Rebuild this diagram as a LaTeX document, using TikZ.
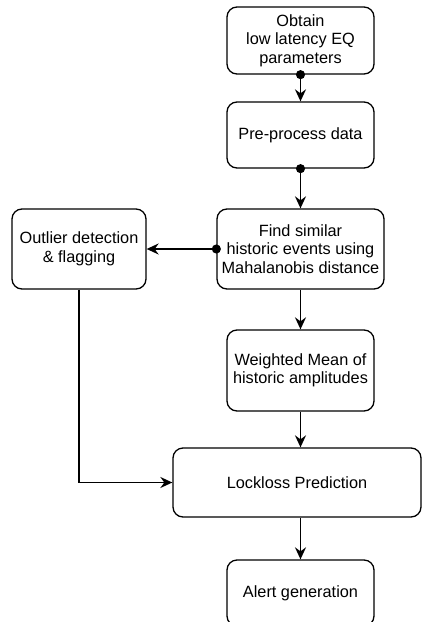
\documentclass[tikz,border=0pt]{standalone}
\usepackage{fontspec}
\setmainfont{Liberation Sans}
\usetikzlibrary{arrows.meta}

\begin{document}
\begin{tikzpicture}[x=1pt,y=-1pt,every node/.style={rectangle,draw,rounded corners=10pt,line width=1.3pt,align=center,font=\fontsize{16.3}{18.5}\selectfont,inner sep=2pt},
	flow/.style={line width=1.7pt,-{Stealth[length=12pt,width=11pt,inset=4pt]}},
	dotflow/.style={flow,{Circle[length=9pt]}-{Stealth[length=12pt,width=11pt,inset=4pt]},shorten <=-4.5pt}]
	\useasboundingbox (0,0) rectangle (422,622);
	\node[minimum width=147pt,minimum height=67pt] (obtain) at (300.5,40.5) {Obtain\\low latency EQ\\parameters};
	\node[minimum width=147pt,minimum height=66pt] (prep) at (300.5,135) {Pre-process data};
	\node[minimum width=167pt,minimum height=80pt] (similar) at (300.5,249) {Find similar\\ historic events using\\Mahalanobis distance};
	\node[minimum width=134pt,minimum height=80pt] (outlier) at (79,249) {Outlier detection\\\& flagging};
	\node[minimum width=147pt,minimum height=81pt] (wmean) at (300.5,370.5) {Weighted Mean of\\historic amplitudes};
	\node[minimum width=248pt,minimum height=69pt] (lockloss) at (297,482.5) {Lockloss Prediction};
	\node[minimum width=147pt,minimum height=66pt] (alert) at (300.5,593) {Alert generation};
	
	\draw[dotflow] (obtain.south) -- (prep.north);
	\draw[dotflow] (prep.south) -- (similar.north);
	\draw[dotflow] (similar.west) -- (outlier.east);
	\draw[flow] (similar.south) -- (wmean.north);
	\draw[flow] (wmean.south) -- (wmean.south |- lockloss.north);
	\draw[flow] (outlier.south) |- (lockloss.west);
	\draw[flow] (alert.north |- lockloss.south) -- (alert.north);
\end{tikzpicture}
\end{document}
